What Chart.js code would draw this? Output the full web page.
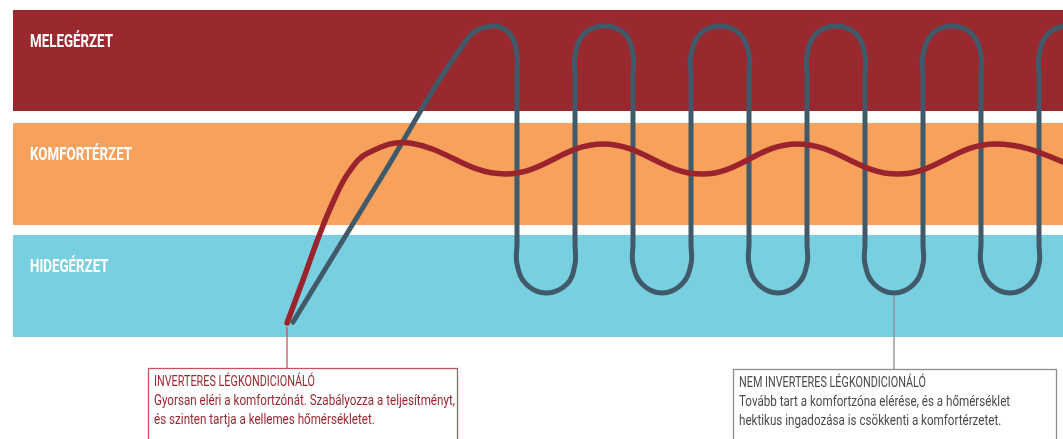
<!DOCTYPE html>
<html>
<head>
<meta charset="utf-8">
<script src="https://cdn.jsdelivr.net/npm/chart.js@4/dist/chart.umd.min.js"></script>
<style>
  html, body { margin: 0; padding: 0; background: #ffffff; }
  #wrap { position: relative; width: 1063px; height: 439px; }
</style>
</head>
<body>
<div id="wrap"><canvas id="c"></canvas></div>
<script>
// ---- data (x: time, y: temperature index) ----
const bandNames  = ['HIDEGÉRZET', 'KOMFORTÉRZET', 'MELEGÉRZET'];
const bandLow    = [0, 11.2, 22.6];
const bandHigh   = [10.2, 21.4, 32.7];
const bandColors = ['#78cfe0', '#f7a15d', '#9a282f'];

const inverterX = [27.4, 29.0, 30.6, 32.1, 33.6, 35.5, 39.7, 49.2, 59.0, 68.9, 78.4, 88.5, 98.2, 108.2];
const inverterY = [1.4, 5.7, 10.1, 13.7, 16.5, 18.4, 19.4, 16.3, 19.3, 16.3, 19.3, 16.3, 19.3, 16.3];

const nonInverterX = [
  28.0, 36.8, 45.5, 47.9, 49.7,
  50.4, 50.4, 50.4, 50.4,  51.3, 53.3, 55.4,  56.2, 56.2, 56.2, 56.2,  57.1, 59.1, 61.2,
  62.0, 62.0, 62.0, 62.0,  62.9, 64.9, 66.9,  67.8, 67.8, 67.8, 67.8,  68.7, 70.7, 72.7,
  73.6, 73.6, 73.6, 73.6,  74.5, 76.5, 78.5,  79.4, 79.4, 79.4, 79.4,  80.3, 82.3, 84.3,
  85.2, 85.2, 85.2, 85.2,  86.1, 88.1, 90.1,  91.0, 91.0, 91.0, 91.0,  91.9, 93.9, 95.9,
  96.8, 96.8, 96.8, 96.8,  97.7, 99.7, 101.7, 102.6, 102.6, 102.6, 102.6, 103.5, 105.5, 107.5
];
const nonInverterY = [
  1.5, 15.9, 29.9, 31.1, 30.3,
  28.2, 26.2, 9.3, 7.3,  5.3, 4.4, 5.3,  7.3, 9.3, 26.2, 28.2,  30.3, 31.1, 30.3,
  28.2, 26.2, 9.3, 7.3,  5.3, 4.4, 5.3,  7.3, 9.3, 26.2, 28.2,  30.3, 31.1, 30.3,
  28.2, 26.2, 9.3, 7.3,  5.3, 4.4, 5.3,  7.3, 9.3, 26.2, 28.2,  30.3, 31.1, 30.3,
  28.2, 26.2, 9.3, 7.3,  5.3, 4.4, 5.3,  7.3, 9.3, 26.2, 28.2,  30.3, 31.1, 30.3,
  28.2, 26.2, 9.3, 7.3,  5.3, 4.4, 5.3,  7.3, 9.3, 26.2, 28.2,  30.3, 31.1, 30.3
];

const noteTitles = ['INVERTERES LÉGKONDICIONÁLÓ', 'NEM INVERTERES LÉGKONDICIONÁLÓ'];
const noteLines = [
  ['Gyorsan eléri a komfortzónát. Szabályozza a teljesítményt,', 'és szinten tartja a kellemes hőmérsékletet.'],
  ['Tovább tart a komfortzóna elérése, és a hőmérséklet', 'hektikus ingadozása is csökkenti a komfortérzetet.']
];
const noteAnchorIndex = [0, 52]; // point of each series the note points to

// ---- build ----
const toPts = (xs, ys) => xs.map((x, i) => ({ x: x, y: ys[i] }));

function condensedText(ctx, text, x, y, sx) {
  ctx.save();
  ctx.translate(x, y);
  ctx.scale(sx, 1);
  ctx.fillText(text, 0, 0);
  ctx.restore();
}

const bandsPlugin = {
  id: 'bands',
  beforeDatasetsDraw(chart) {
    const { ctx, scales: { y }, chartArea } = chart;
    ctx.save();
    ctx.font = 'bold 19px Roboto, sans-serif';
    const sx = 83 / ctx.measureText('MELEGÉRZET').width;
    for (let i = 0; i < bandNames.length; i++) {
      const top = y.getPixelForValue(bandHigh[i]);
      const bot = y.getPixelForValue(bandLow[i]);
      ctx.fillStyle = bandColors[i];
      ctx.fillRect(chartArea.left, top, chart.width - chartArea.left, bot - top);
      ctx.fillStyle = '#ffffff';
      ctx.textBaseline = 'middle';
      ctx.textAlign = 'left';
      condensedText(ctx, bandNames[i], chartArea.left + 17, top + 32, sx);
    }
    ctx.restore();
  }
};

const notesPlugin = {
  id: 'notes',
  afterDraw(chart, args, opts) {
    const { ctx } = chart;
    ctx.save();
    ctx.font = '14px Roboto, sans-serif';
    const sx = 301 / ctx.measureText(noteLines[0][0]).width;
    const sxT = 161 / ctx.measureText(noteTitles[0]).width;
    opts.boxes.forEach((b, i) => {
      const pt = chart.getDatasetMeta(i).data[noteAnchorIndex[i]];
      const ax = pt.x, ay = pt.y;
      ctx.strokeStyle = b.line;
      ctx.lineWidth = 1.3;
      ctx.beginPath();
      ctx.moveTo(ax, ay + b.gap);
      ctx.lineTo(ax, b.top);
      ctx.stroke();
      ctx.strokeRect(b.left + 0.5, b.top + 0.5, b.right - b.left, 200);
      ctx.fillStyle = b.text;
      ctx.textBaseline = 'middle';
      ctx.textAlign = 'left';
      condensedText(ctx, noteTitles[i], b.left + 6, b.top + 14, sxT);
      noteLines[i].forEach((ln, k) => condensedText(ctx, ln, b.left + 6, b.top + 33 + k * 19, sx));
    });
    ctx.restore();
  }
};

new Chart(document.getElementById('c'), {
  type: 'scatter',
  data: {
    datasets: [
      { label: 'Inverteres', data: toPts(inverterX, inverterY), showLine: true, borderColor: '#9b232d',
        borderWidth: 5.5, tension: 0.4, pointRadius: 0, borderCapStyle: 'round', borderJoinStyle: 'round', clip: false },
      { label: 'Nem inverteres', data: toPts(nonInverterX, nonInverterY), showLine: true, borderColor: '#415a6a',
        borderWidth: 5, tension: 0.4, pointRadius: 0, borderCapStyle: 'round', borderJoinStyle: 'round', clip: false }
    ]
  },
  options: {
    responsive: true,
    maintainAspectRatio: false,
    animation: false,
    events: [],
    layout: { padding: { left: 13, top: 10, right: 0, bottom: 102 } },
    elements: { line: { capBezierPoints: false } },
    scales: {
      x: { type: 'linear', min: 0, max: 105, display: false },
      y: { type: 'linear', min: 0, max: 32.7, display: false }
    },
    plugins: {
      legend: { display: false },
      tooltip: { enabled: false },
      notes: {
        boxes: [
          { left: 148, right: 457, top: 368, gap: 4, line: '#c0565c', text: '#9b2830' },
          { left: 733, right: 1056, top: 369, gap: 3, line: '#8a8f92', text: '#4a4a4a' }
        ]
      }
    }
  },
  plugins: [bandsPlugin, notesPlugin]
});
</script>
</body>
</html>
